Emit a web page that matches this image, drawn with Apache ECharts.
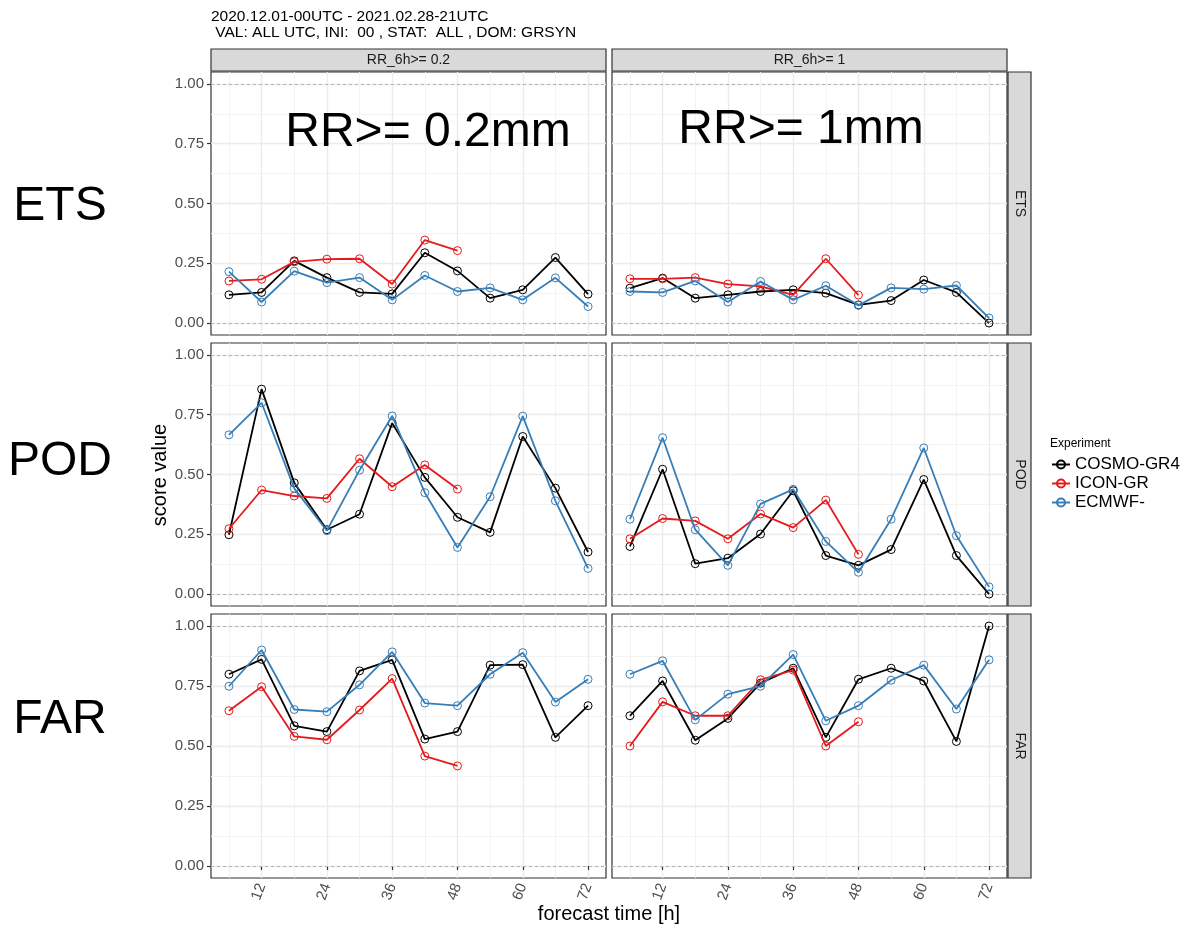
<!DOCTYPE html>
<html style="height: 100%">
<head>
<meta charset="utf-8">
<script src="https://cdn.jsdelivr.net/npm/echarts@6/dist/echarts.min.js"></script>
</head>
<body style="height: 100%; margin: 0; background: #fff">
<div id="container" style="width: 1185px; height: 930px"></div>
<script type="text/javascript">
// forecast lead times (h)
var hours = [6, 12, 18, 24, 30, 36, 42, 48, 54, 60, 66, 72];
var majorX = [12, 24, 36, 48, 60, 72];
var minorX = [6, 18, 30, 42, 54, 66];
var majorY = [0, 0.25, 0.5, 0.75, 1];
var minorY = [0.125, 0.375, 0.625, 0.875];

var thresholds = ['RR_6h>= 0.2', 'RR_6h>= 1'];
var scores = ['ETS', 'POD', 'FAR'];
var experiments = ['COSMO-GR4', 'ICON-GR', 'ECMWF-'];

// ETS
var etsCosmo02 = [0.118, 0.128, 0.260, 0.190, 0.128, 0.122, 0.294, 0.218, 0.104, 0.139, 0.274, 0.121];
var etsIcon02  = [0.176, 0.183, 0.256, 0.267, 0.269, 0.163, 0.347, 0.303];
var etsEcmwf02 = [0.215, 0.088, 0.217, 0.169, 0.190, 0.097, 0.199, 0.132, 0.147, 0.097, 0.189, 0.069];
var etsCosmo1  = [0.146, 0.188, 0.104, 0.118, 0.132, 0.139, 0.125, 0.076, 0.094, 0.180, 0.128, 0.000];
var etsIcon1   = [0.185, 0.185, 0.190, 0.163, 0.153, 0.118, 0.269, 0.117];
var etsEcmwf1  = [0.132, 0.128, 0.176, 0.088, 0.174, 0.097, 0.156, 0.074, 0.147, 0.142, 0.157, 0.021];
// POD
var podCosmo02 = [0.248, 0.857, 0.465, 0.269, 0.334, 0.715, 0.488, 0.321, 0.258, 0.659, 0.443, 0.176];
var podIcon02  = [0.273, 0.435, 0.410, 0.400, 0.566, 0.449, 0.540, 0.439];
var podEcmwf02 = [0.666, 0.800, 0.442, 0.265, 0.518, 0.745, 0.424, 0.195, 0.407, 0.744, 0.390, 0.107];
var podCosmo1  = [0.199, 0.522, 0.127, 0.150, 0.251, 0.432, 0.161, 0.120, 0.186, 0.479, 0.161, 0.000];
var podIcon1   = [0.231, 0.316, 0.306, 0.231, 0.335, 0.278, 0.393, 0.166];
var podEcmwf1  = [0.313, 0.654, 0.269, 0.120, 0.377, 0.438, 0.220, 0.091, 0.313, 0.611, 0.244, 0.030];
// FAR
var farCosmo02 = [0.799, 0.861, 0.584, 0.560, 0.813, 0.859, 0.529, 0.560, 0.837, 0.839, 0.536, 0.668];
var farIcon02  = [0.647, 0.747, 0.540, 0.526, 0.650, 0.781, 0.458, 0.417];
var farEcmwf02 = [0.749, 0.900, 0.652, 0.643, 0.755, 0.892, 0.679, 0.668, 0.799, 0.889, 0.683, 0.778];
var farCosmo1  = [0.626, 0.771, 0.524, 0.615, 0.762, 0.824, 0.536, 0.778, 0.824, 0.771, 0.519, 1.000];
var farIcon1   = [0.500, 0.684, 0.626, 0.626, 0.776, 0.816, 0.500, 0.601];
var farEcmwf1  = [0.799, 0.855, 0.609, 0.716, 0.749, 0.881, 0.605, 0.668, 0.774, 0.837, 0.654, 0.859];

// panel order: row (score) x column (threshold)
var panelData = [
    [etsCosmo02, etsIcon02, etsEcmwf02], [etsCosmo1, etsIcon1, etsEcmwf1],
    [podCosmo02, podIcon02, podEcmwf02], [podCosmo1, podIcon1, podEcmwf1],
    [farCosmo02, farIcon02, farEcmwf02], [farCosmo1, farIcon1, farEcmwf1]
];

var colors = ['#000000', '#E41A1C', '#377EB8'];
var FONT = '"Liberation Sans", Arial, sans-serif';
var colLeft = [211, 612], colWidth = 395;
var rowTop = [72, 343, 614], rowHeight = [263, 263, 264];

var dom = document.getElementById("container");
var myChart = echarts.init(dom, null, {renderer: 'canvas'});

var grids = [], xAxes = [], yAxes = [], series = [], graphics = [];

function pairs(arr) {
    return arr.map(function (v, i) { return [hours[i], v]; });
}

for (var r = 0; r < 3; r++) {
    for (var c = 0; c < 2; c++) {
        var g = r * 2 + c;
        var bottom = (r === 2), left = (c === 0);
        grids.push({
            left: colLeft[c], top: rowTop[r], width: colWidth, height: rowHeight[r],
            show: true, backgroundColor: '#fff', borderColor: '#333333', borderWidth: 1.2,
            outerBoundsMode: 'none', containLabel: false
        });
        // major x axis
        xAxes.push({
            type: 'value', gridIndex: g, min: 2.7, max: 75.3,
            axisLine: {show: false},
            axisTick: {show: bottom, customValues: majorX, length: 4, lineStyle: {color: '#333333', width: 1.2}},
            axisLabel: {show: bottom, customValues: majorX, rotate: 70, margin: 6,
                color: '#4D4D4D', fontSize: 15, fontFamily: FONT},
            splitLine: {show: true, lineStyle: {color: '#EBEBEB', width: 1.3}},
            z: 1
        });
        // minor x grid
        xAxes.push({
            type: 'value', gridIndex: g, min: 2.7, max: 75.3,
            axisLine: {show: false},
            axisTick: {show: false, customValues: minorX},
            axisLabel: {show: false},
            splitLine: {show: true, lineStyle: {color: '#F2F2F2', width: 0.9}},
            z: 0
        });
        yAxes.push({
            type: 'value', gridIndex: g, min: -0.05, max: 1.05,
            axisLine: {show: false},
            axisTick: {show: left, customValues: majorY, length: 4, lineStyle: {color: '#333333', width: 1.2}},
            axisLabel: {show: left, customValues: majorY, margin: 7, color: '#4D4D4D', fontSize: 15,
                fontFamily: FONT, formatter: function (v) { return v.toFixed(2); }},
            splitLine: {show: true, lineStyle: {color: '#EBEBEB', width: 1.3}},
            z: 1
        });
        yAxes.push({
            type: 'value', gridIndex: g, min: -0.05, max: 1.05,
            axisLine: {show: false},
            axisTick: {show: false, customValues: minorY},
            axisLabel: {show: false},
            splitLine: {show: true, lineStyle: {color: '#F2F2F2', width: 0.9}},
            z: 0
        });
        for (var e = 0; e < 3; e++) {
            var s = {
                name: experiments[e], type: 'line',
                xAxisIndex: 2 * g, yAxisIndex: 2 * g,
                data: pairs(panelData[g][e]),
                symbol: 'circle', symbolSize: 8,
                lineStyle: {color: colors[e], width: 1.8},
                itemStyle: {color: 'rgba(255,255,255,0)', borderColor: colors[e], borderWidth: 1},
                z: 3 + e
            };
            if (e === 0) {
                s.markLine = {
                    silent: true, symbol: ['none', 'none'], label: {show: false},
                    lineStyle: {color: '#B5B5B5', type: [3, 3], width: 1},
                    data: [{yAxis: 0}, {yAxis: 1}], z: 2
                };
            }
            series.push(s);
        }
    }
}

// facet strips (top)
for (var c2 = 0; c2 < 2; c2++) {
    graphics.push({type: 'rect', shape: {x: colLeft[c2], y: 49, width: colWidth, height: 22},
        style: {fill: '#D9D9D9', stroke: '#333333', lineWidth: 1.2}, silent: true});
    graphics.push({type: 'text', x: colLeft[c2] + colWidth / 2, y: 60.5,
        style: {text: thresholds[c2], font: '14px ' + FONT, fill: '#1A1A1A', align: 'center', verticalAlign: 'middle'}});
}
// facet strips (right)
for (var r2 = 0; r2 < 3; r2++) {
    graphics.push({type: 'rect', shape: {x: 1008, y: rowTop[r2], width: 23, height: rowHeight[r2]},
        style: {fill: '#D9D9D9', stroke: '#333333', lineWidth: 1.2}, silent: true});
    graphics.push({type: 'text', x: 1019.5, y: rowTop[r2] + rowHeight[r2] / 2, rotation: -Math.PI / 2,
        style: {text: scores[r2], font: '14px ' + FONT, fill: '#1A1A1A', align: 'center', verticalAlign: 'middle'}});
}
// big annotations
var bigLabelY = [207, 462, 720];
for (var r3 = 0; r3 < 3; r3++) {
    graphics.push({type: 'text', x: 60, y: bigLabelY[r3],
        style: {text: scores[r3], font: '48px ' + FONT, fill: '#000', align: 'center', verticalAlign: 'middle'}});
}
graphics.push({type: 'text', x: 428, y: 133, z: 10,
    style: {text: 'RR>= 0.2mm', font: '48px ' + FONT, fill: '#000', align: 'center', verticalAlign: 'middle'}});
graphics.push({type: 'text', x: 801, y: 130, z: 10,
    style: {text: 'RR>= 1mm', font: '48px ' + FONT, fill: '#000', align: 'center', verticalAlign: 'middle'}});
// titles
graphics.push({type: 'text', x: 211, y: 17,
    style: {text: '2020.12.01-00UTC - 2021.02.28-21UTC', font: '15.5px ' + FONT, fill: '#000', align: 'left', verticalAlign: 'middle'}});
graphics.push({type: 'text', x: 211, y: 33,
    style: {text: ' VAL: ALL UTC, INI:  00 , STAT:  ALL , DOM: GRSYN', font: '15.5px ' + FONT, fill: '#000', align: 'left', verticalAlign: 'middle'}});
// axis titles
graphics.push({type: 'text', x: 160, y: 475, rotation: Math.PI / 2,
    style: {text: 'score value', font: '20px ' + FONT, fill: '#000', align: 'center', verticalAlign: 'middle'}});
graphics.push({type: 'text', x: 609, y: 914,
    style: {text: 'forecast time [h]', font: '20px ' + FONT, fill: '#000', align: 'center', verticalAlign: 'middle'}});
// legend title
graphics.push({type: 'text', x: 1050, y: 444,
    style: {text: 'Experiment', font: '12px ' + FONT, fill: '#000', align: 'left', verticalAlign: 'middle'}});

option = {
    animation: false,
    backgroundColor: '#fff',
    grid: grids,
    xAxis: xAxes,
    yAxis: yAxes,
    series: series,
    legend: {
        orient: 'vertical', left: 1046, top: 451,
        itemWidth: 18, itemHeight: 10, itemGap: 2,
        textStyle: {fontSize: 17, color: '#000', fontFamily: FONT},
        data: experiments
    },
    graphic: graphics
};
if (option && typeof option === "object") {
    myChart.setOption(option, true);
}
</script>
</body>
</html>
